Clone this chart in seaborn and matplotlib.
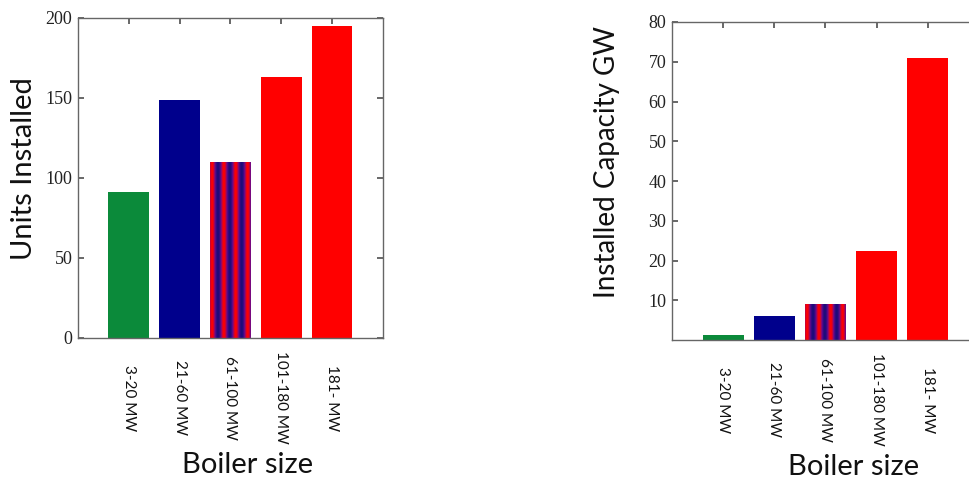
import numpy as np
import pandas as pd
import matplotlib
matplotlib.use("Agg")
import matplotlib.pyplot as plt
from matplotlib.colors import LinearSegmentedColormap
import seaborn as sns

# ---- data ----
categories = ["3-20 MW", "21-60 MW", "61-100 MW", "101-180 MW", "181- MW"]
units_installed = [91, 149, 110, 163, 195]
capacity_gw = [1.3, 6.1, 9.0, 22.4, 70.9]
bar_colors = ["#0b8a3a", "#00008c", "#00008c", "#ff0000", "#ff0000"]
striped_index = 2

sns.set_theme(style="white")
plt.rcParams["font.family"] = ["Lato", "DejaVu Sans"]

fig = plt.figure(figsize=(9.7, 4.8), dpi=100)
ax1 = fig.add_axes([78 / 970, 1 - 338 / 480, 305 / 970, 320 / 480])
ax2 = fig.add_axes([672 / 970, 1 - 340 / 480, 307 / 970, 318 / 480])

stripe_cmap = LinearSegmentedColormap.from_list("st", ["#1c0a7a", "#6a0a90", "#ff0000"])


def draw(ax, values, ylabel, ylim, yticks, ylab_fs, ylab_coords, xlab_coords):
    df = pd.DataFrame({"cat": categories, "val": values})
    sns.barplot(data=df, x="cat", y="val", hue="cat", palette=bar_colors,
                legend=False, width=0.8, ax=ax, saturation=1, edgecolor="none")
    # striped bar overlay
    p = ax.patches[striped_index]
    x0, y0 = p.get_x(), p.get_y()
    w, h = p.get_width(), p.get_height()
    f = np.linspace(0, 1, 200)
    pattern = np.cos(2 * np.pi * (f - 0.05) / 0.29)[None, :]
    im = ax.imshow(pattern, cmap=stripe_cmap, aspect="auto",
                   extent=[x0, x0 + w, y0, y0 + h], zorder=p.get_zorder() + 0.1,
                   interpolation="bilinear")
    im.set_clip_path(p)
    ax.set_xlim(-1, 5)
    ax.set_ylim(*ylim)
    ax.set_yticks(yticks)
    ax.set_yticklabels([str(t) for t in yticks], family=["Liberation Serif"], fontsize=13,
                       color="#222222")
    ax.set_xticks(range(len(categories)))
    ax.set_xticklabels(categories, rotation=-90, va="center", ha="center",
                       fontsize=11, color="#111111")
    ax.tick_params(axis="x", which="both", bottom=False, top=True, direction="in",
                   length=4, color="#555555", pad=43, labelbottom=True)
    ax.tick_params(axis="y", which="both", left=True, right=True, direction="in",
                   length=4, color="#555555", pad=4)
    for s in ax.spines.values():
        s.set_visible(True)
        s.set_color("#666666")
        s.set_linewidth(1.0)
    ax.set_ylabel(ylabel, fontsize=ylab_fs, color="#111111", va="center")
    ax.yaxis.set_label_coords(*ylab_coords)
    ax.set_xlabel("Boiler size", fontsize=21, color="#111111", va="center")
    ax.xaxis.set_label_coords(*xlab_coords)
    ax.set_facecolor("white")


draw(ax1, units_installed, "Units Installed", (0, 200), [0, 50, 100, 150, 200], 21,
     (-0.177, 0.528), (0.557, -0.397))
draw(ax2, capacity_gw, "Installed Capacity GW", (0, 80), [10, 20, 30, 40, 50, 60, 70, 80], 20,
     (-0.212, 0.561), (0.59, -0.40))

fig.savefig("out.png", dpi=100, facecolor="white")
